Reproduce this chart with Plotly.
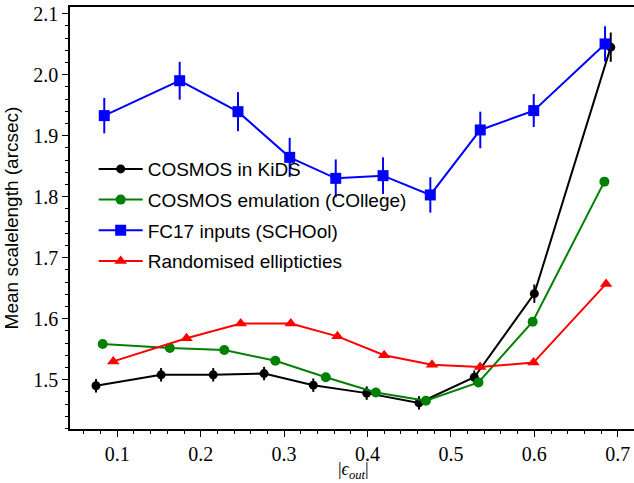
import plotly.graph_objects as go

# ---- data ----
kids_x = [0.0745, 0.1525, 0.215, 0.276, 0.335, 0.399, 0.4617, 0.528, 0.600, 0.6916]
kids_y = [1.490, 1.508, 1.508, 1.510, 1.491, 1.478, 1.462, 1.504, 1.641, 2.045]
kids_e = [0.011, 0.011, 0.011, 0.011, 0.011, 0.011, 0.011, 0.011, 0.015, 0.024]

coll_x = [0.0825, 0.163, 0.2283, 0.2895, 0.350, 0.410, 0.470, 0.533, 0.598, 0.684]
coll_y = [1.5585, 1.552, 1.5487, 1.531, 1.504, 1.479, 1.4656, 1.4956, 1.595, 1.8246]
coll_e = [0.003] * 10

sch_x = [0.0844, 0.1748, 0.2447, 0.3067, 0.3619, 0.4186, 0.4753, 0.5352, 0.5993, 0.6848]
sch_y = [1.9328, 1.990, 1.9393, 1.8644, 1.830, 1.8344, 1.8028, 1.9093, 1.941, 2.0503]
sch_e = [0.029, 0.031, 0.032, 0.032, 0.031, 0.030, 0.029, 0.030, 0.027, 0.029]

rnd_x = [0.0952, 0.183, 0.248, 0.308, 0.364, 0.420, 0.4773, 0.535, 0.599, 0.686]
rnd_y = [1.530, 1.568, 1.592, 1.592, 1.571, 1.540, 1.5246, 1.521, 1.528, 1.657]
rnd_e = [0.003] * 10

names = ["COSMOS in KiDS", "COSMOS emulation (COllege)", "FC17 inputs (SCHOol)", "Randomised ellipticties"]
colors = ["#000000", "#008000", "#0000ff", "#ff0000"]
symbols = ["circle", "circle", "square", "triangle-up"]
sizes = [9, 10, 11, 11]

XR = [0.0433, 0.7195]
YR = [1.4192, 2.1108]

fig = go.Figure()
series = [(kids_x, kids_y, kids_e), (coll_x, coll_y, coll_e), (sch_x, sch_y, sch_e), (rnd_x, rnd_y, rnd_e)]
for i, (xs, ys, es) in enumerate(series):
    fig.add_trace(go.Scatter(
        x=xs, y=ys, mode="lines+markers", name=names[i],
        legendgroup="g%d" % i,
        line=dict(color=colors[i], width=2),
        marker=dict(color=colors[i], symbol=symbols[i], size=sizes[i], line=dict(width=0)),
        error_y=dict(type="data", array=es, visible=True, color=colors[i], thickness=2, width=0),
    ))

tickfont = dict(family="Liberation Serif", size=20, color="black")
fig.update_layout(
    width=634, height=483,
    margin=dict(l=70, r=0, t=7, b=54),
    paper_bgcolor="white", plot_bgcolor="white",
    font=dict(family="Liberation Sans", size=19, color="black"),
    showlegend=True,
    legend=dict(x=0.042, y=0.661, xanchor="left", yanchor="top",
                bgcolor="rgba(0,0,0,0)", font=dict(family="Liberation Sans", size=19),
                itemwidth=44, tracegroupgap=3),
    xaxis=dict(range=XR, showgrid=False, zeroline=False, showline=True, linecolor="black",
               linewidth=1.5, mirror=True, ticks="outside", ticklen=6, tickwidth=1.2,
               tickcolor="black", dtick=0.1, tick0=0, tickformat=".1f", tickfont=tickfont,
               automargin=False,
               minor=dict(ticks="outside", ticklen=3, dtick=0.02, tick0=0, tickcolor="black", tickwidth=1)),
    yaxis=dict(range=YR, showgrid=False, zeroline=False, showline=True, linecolor="black",
               linewidth=1.5, ticks="outside", ticklen=6, tickwidth=1.2,
               tickcolor="black", dtick=0.1, tick0=0, tickformat=".1f", tickfont=tickfont,
               automargin=False,
               minor=dict(ticks="outside", ticklen=3, dtick=0.02, tick0=0, tickcolor="black", tickwidth=1),
               title=dict(text="Mean scalelength (arcsec)",
                          font=dict(family="Liberation Sans", size=19), standoff=10)),
    xaxis2=dict(range=XR, overlaying="x", anchor="y", side="bottom", showgrid=False,
                zeroline=False, showticklabels=False, ticks="inside", ticklen=6, tickwidth=1.2,
                tickcolor="black", dtick=0.1, tick0=0,
                minor=dict(ticks="inside", ticklen=3, dtick=0.02, tick0=0, tickcolor="black", tickwidth=1)),
    yaxis2=dict(range=YR, overlaying="y", anchor="x", side="left", showgrid=False,
                zeroline=False, showticklabels=False, ticks="inside", ticklen=6, tickwidth=1.2,
                tickcolor="black", dtick=0.1, tick0=0,
                minor=dict(ticks="inside", ticklen=3, dtick=0.02, tick0=0, tickcolor="black", tickwidth=1)),
    annotations=[dict(text="|<i>ϵ</i><sub><i>out</i></sub>|", xref="paper", yref="paper",
                      x=0.502, y=-0.099, xanchor="center", yanchor="middle", showarrow=False,
                      font=dict(family="Liberation Serif", size=18, color="black"))],
)

fig.write_html("out.html")
